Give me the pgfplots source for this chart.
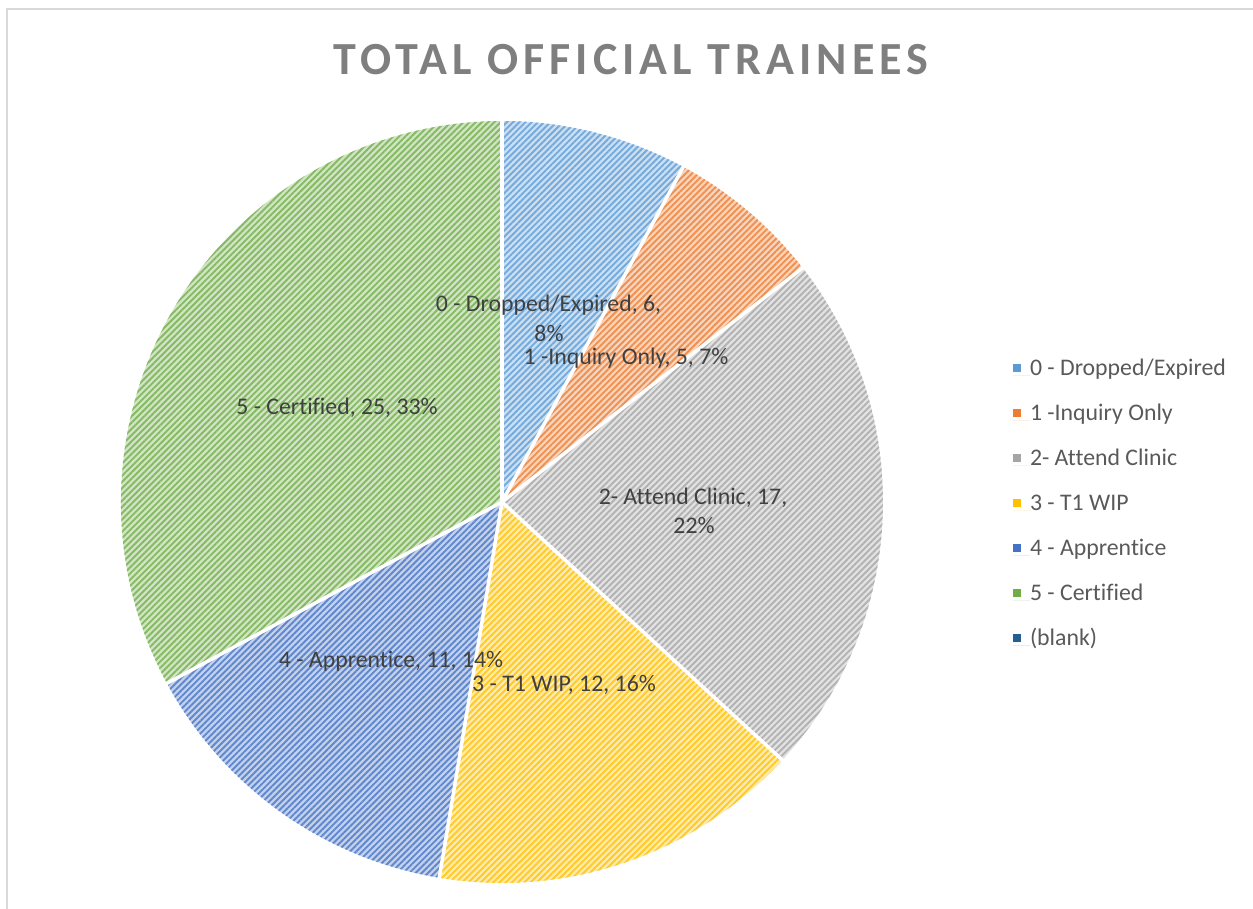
\documentclass[border=0pt]{standalone}
\usepackage{pgfplots}
\pgfplotsset{compat=1.18}
\usepackage{pgfplotstable}
\usetikzlibrary{patterns.meta}
\usepackage{fontspec}
\setmainfont{Carlito}[Ligatures=NoCommon]
\definecolor{c0}{HTML}{5B9BD5}
\definecolor{c1}{HTML}{ED7D31}
\definecolor{c2}{HTML}{A5A5A5}
\definecolor{c3}{HTML}{FFC000}
\definecolor{c4}{HTML}{4472C4}
\definecolor{c5}{HTML}{70AD47}
\definecolor{c6}{HTML}{255E91}
\definecolor{labtext}{HTML}{404040}
\definecolor{legtext}{HTML}{595959}
\definecolor{titletext}{HTML}{7F7F7F}
\definecolor{frame}{HTML}{D9D9D9}
\newcommand\labfont{\fontsize{23.8}{28}\selectfont}
\pgfplotstableread{
idx value
0 6
1 5
2 17
3 12
4 11
5 25
6 0
}\piedata
\begin{document}
\begin{tikzpicture}
\useasboundingbox (0,0) rectangle (1253pt,909pt);
\def\total{0}
\pgfplotsforeachungrouped \i in {0,...,6}{%
  \pgfplotstablegetelem{\i}{value}\of\piedata
  \pgfmathsetmacro\total{\total+\pgfplotsretval}}
\begin{axis}[
  width=1253pt, height=909pt, scale only axis,
  at={(0,0)}, anchor=south west,
  xmin=0, xmax=1253, ymin=0, ymax=909,
  enlargelimits=false, axis lines=none,
  legend style={at={(axis cs:1013,550)}, anchor=north west, draw=none, fill=none,
    inner sep=0pt, outer sep=0pt, font=\labfont, text=legtext,
    nodes={text height=17pt, text depth=6pt, inner sep=0pt, anchor=base west},
    row sep=22pt},
  legend cell align=left,
  legend image code/.code={\fill[#1] (0pt,3.5pt) rectangle (8pt,11.5pt); \path (0pt,0pt) -- (17pt,0pt);},
]
% slices
\def\startang{90}
\pgfplotsforeachungrouped \i in {0,...,5}{%
  \pgfplotstablegetelem{\i}{value}\of\piedata
  \pgfmathsetmacro\endang{\startang-360*\pgfplotsretval/\total}%
  \edef\cmd{\noexpand\path[preaction={fill=c\i!32!white}, pattern={Lines[angle=45,distance=4.4pt,line width=1.9pt]}, pattern color=c\i!85!white]
    (axis cs:502,407) -- ++(\startang:381pt) arc[start angle=\startang, end angle=\endang, radius=381pt] -- cycle;}%
  \cmd
  \let\startang\endang
}
% white separators
\def\startang{90}
\pgfplotsforeachungrouped \i in {0,...,5}{%
  \pgfplotstablegetelem{\i}{value}\of\piedata
  \edef\cmd{\noexpand\draw[white, line width=3.5pt]
    (axis cs:502,407) -- ++(\startang:382pt);}%
  \cmd
  \pgfmathsetmacro\endang{\startang-360*\pgfplotsretval/\total}%
  \let\startang\endang
}
\draw[frame, line width=2pt] (axis cs:6.7,0) -- (axis cs:6.7,900.2) -- (axis cs:1253,900.2);
\node[anchor=base, font=\fontsize{46}{50}\selectfont\bfseries\addfontfeature{LetterSpace=11}, text=titletext] at (axis cs:631,834) {TOTAL OFFICIAL TRAINEES};
\begin{scope}[every node/.style={anchor=base, font=\labfont, text=labtext, inner sep=0pt}]
\node at (axis cs:548.5,597) {0 - Dropped/Expired, 6,};
\node at (axis cs:549,567) {8\%};
\node at (axis cs:626,544) {1 -Inquiry Only, 5, 7\%};
\node at (axis cs:693,404) {2- Attend Clinic, 17,};
\node at (axis cs:694,375) {22\%};
\node at (axis cs:564,217) {3 - T1 WIP, 12, 16\%};
\node at (axis cs:391,241) {4 - Apprentice, 11, 14\%};
\node at (axis cs:337,494) {5 - Certified, 25, 33\%};
\end{scope}
\addlegendimage{fill=c0, draw=none}\addlegendentry{0 - Dropped/Expired}
\addlegendimage{fill=c1, draw=none}\addlegendentry{1 -Inquiry Only}
\addlegendimage{fill=c2, draw=none}\addlegendentry{2- Attend Clinic}
\addlegendimage{fill=c3, draw=none}\addlegendentry{3 - T1 WIP}
\addlegendimage{fill=c4, draw=none}\addlegendentry{4 - Apprentice}
\addlegendimage{fill=c5, draw=none}\addlegendentry{5 - Certified}
\addlegendimage{fill=c6, draw=none}\addlegendentry{(blank)}
\end{axis}
\end{tikzpicture}
\end{document}
